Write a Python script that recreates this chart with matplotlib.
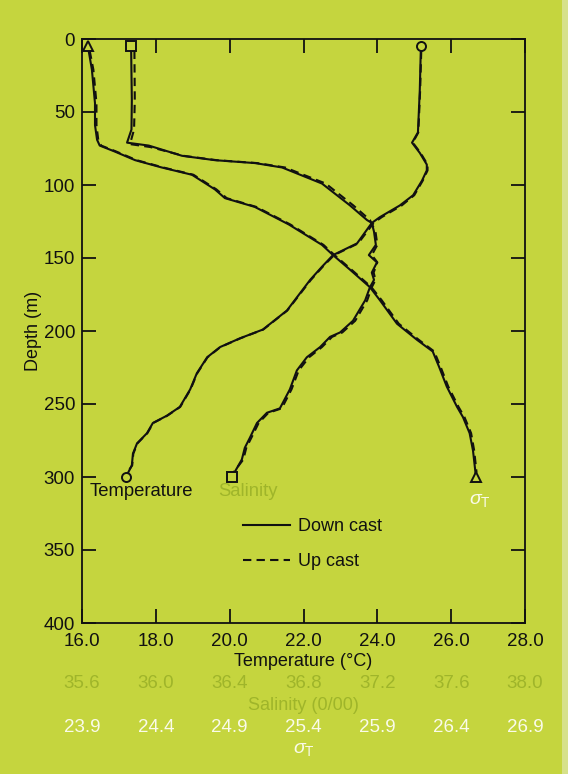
import matplotlib
matplotlib.use("Agg")
import matplotlib.pyplot as plt
from matplotlib.lines import Line2D
from matplotlib.patches import Rectangle

plt.rcParams['font.family'] = ['Liberation Sans', 'DejaVu Sans']
plt.rcParams['mathtext.fontset'] = 'custom'
plt.rcParams['mathtext.rm'] = 'Liberation Sans'
plt.rcParams['mathtext.it'] = 'Liberation Sans:italic'

# ---------------- data ----------------
temp_ticks = [16.0, 18.0, 20.0, 22.0, 24.0, 26.0, 28.0]
sal_ticks = [35.6, 36.0, 36.4, 36.8, 37.2, 37.6, 38.0]
sig_ticks = [23.9, 24.4, 24.9, 25.4, 25.9, 26.4, 26.9]
depth_ticks = [0, 50, 100, 150, 200, 250, 300, 350, 400]

temp_down_depth = [5, 35, 64, 71, 78, 86, 90, 97, 107, 114, 122, 126, 140, 148, 156, 165,
                   186, 199, 205, 211, 218, 229, 240, 252, 258, 263, 270, 277, 284, 292, 300]
temp_down = [25.18, 25.15, 25.10, 24.94, 25.15, 25.34, 25.34, 25.21, 24.97, 24.61, 24.07,
             23.85, 23.45, 22.80, 22.50, 22.18, 21.55, 20.90, 20.28, 19.74, 19.39, 19.11,
             18.93, 18.65, 18.30, 17.92, 17.76, 17.49, 17.38, 17.35, 17.19]

temp_up_depth = [8, 35, 64, 71, 78, 86, 90, 97, 107, 114, 122, 126, 140, 148, 156, 165,
                 186, 199, 205, 211, 218, 229, 240, 252, 258, 263, 270, 277, 284, 292, 298]
temp_up = [25.19, 25.16, 25.11, 24.96, 25.17, 25.36, 25.36, 25.23, 25.00, 24.66, 24.12,
           23.90, 23.48, 22.83, 22.52, 22.20, 21.56, 20.91, 20.29, 19.75, 19.40, 19.12,
           18.94, 18.66, 18.31, 17.93, 17.77, 17.50, 17.39, 17.36, 17.20]

sal_down_depth = [5, 42, 62, 71, 73, 80, 83, 85, 88, 99, 114, 124, 126, 132, 141, 148, 153,
                  160, 165, 170, 179, 193, 201, 204, 211, 218, 227, 240, 253, 256, 263, 273,
                  280, 288, 300]
sal_down = [35.866, 35.870, 35.868, 35.844, 35.962, 36.142, 36.320, 36.538, 36.684, 36.900,
            37.052, 37.144, 37.170, 37.182, 37.192, 37.154, 37.198, 37.170, 37.182, 37.160,
            37.134, 37.068, 36.998, 36.944, 36.890, 36.818, 36.764, 36.726, 36.672, 36.602,
            36.548, 36.510, 36.482, 36.466, 36.412]

sal_up_depth = [8, 42, 62, 72, 74, 80, 83, 85, 88, 99, 114, 124, 132, 141, 148, 153, 160,
                165, 170, 179, 193, 201, 204, 211, 218, 227, 240, 253, 256, 263, 273, 280,
                288, 297]
sal_up = [35.884, 35.886, 35.882, 35.860, 35.970, 36.150, 36.330, 36.550, 36.700, 36.920,
          37.070, 37.160, 37.190, 37.200, 37.170, 37.200, 37.180, 37.190, 37.170, 37.145,
          37.080, 37.010, 36.955, 36.900, 36.830, 36.774, 36.735, 36.682, 36.610, 36.557,
          36.518, 36.490, 36.474, 36.420]

sig_down_depth = [5, 21, 44, 59, 69, 73, 77, 83, 88, 93, 103, 109, 115, 127, 141, 148, 158,
                  170, 179, 195, 206, 214, 225, 238, 252, 259, 270, 282, 300]
sig_down = [23.940, 23.967, 23.988, 23.988, 24.002, 24.020, 24.120, 24.260, 24.440, 24.645,
            24.800, 24.868, 25.070, 25.300, 25.525, 25.600, 25.715, 25.850, 25.918, 26.033,
            26.168, 26.275, 26.320, 26.370, 26.440, 26.480, 26.525, 26.548, 26.568]

sig_up_depth = [8, 21, 44, 59, 69, 73, 77, 83, 88, 93, 103, 109, 115, 127, 141, 148, 158,
                170, 179, 195, 206, 214, 225, 238, 252, 259, 270, 282, 297]
sig_up = [23.952, 23.977, 23.998, 23.998, 24.010, 24.030, 24.130, 24.270, 24.450, 24.655,
          24.810, 24.880, 25.080, 25.310, 25.535, 25.610, 25.725, 25.860, 25.930, 26.045,
          26.180, 26.285, 26.330, 26.380, 26.450, 26.490, 26.535, 26.556, 26.572]

# ---------------- styling ----------------
BG = '#C5D53E'
SAL_C = '#9FB52A'
SIG_C = '#FAFBEA'
INK = '#111111'
DASH = (0, (4, 2.5))


def s2t(s):
    return 16.0 + (s - 35.6) / 0.2


def t2s(t):
    return 35.6 + (t - 16.0) * 0.2


def g2t(g):
    return 16.0 + (g - 23.9) / 0.25


def t2g(t):
    return 23.9 + (t - 16.0) * 0.25


fig = plt.figure(figsize=(5.68, 7.74), dpi=100, facecolor=BG)
fig.patches.append(Rectangle((562 / 568, 0), 6 / 568, 1, transform=fig.transFigure,
                             facecolor='#D6E18A', edgecolor='none', zorder=0))
ax = fig.add_axes([82 / 568, 1 - 623 / 774, 443 / 568, 584 / 774])
ax.set_facecolor(BG)

lw = 1.5
ax.plot(temp_down, temp_down_depth, color=INK, lw=lw)
ax.plot(temp_up, temp_up_depth, color=INK, lw=lw, ls=DASH)
ax.plot([s2t(v) for v in sal_down], sal_down_depth, color=INK, lw=lw)
ax.plot([s2t(v) for v in sal_up], sal_up_depth, color=INK, lw=lw, ls=DASH)
ax.plot([g2t(v) for v in sig_down], sig_down_depth, color=INK, lw=lw)
ax.plot([g2t(v) for v in sig_up], sig_up_depth, color=INK, lw=lw, ls=DASH)

mk = dict(ls='none', mfc=BG, mec=INK, mew=1.4, ms=6.5, zorder=5)
ax.plot([temp_down[0], temp_down[-1]], [temp_down_depth[0], temp_down_depth[-1]], marker='o', **mk)
ax.plot([s2t(sal_down[0]), s2t(sal_down[-1])], [sal_down_depth[0], sal_down_depth[-1]], marker='s', **mk)
ax.plot([g2t(sig_down[0]), g2t(sig_down[-1])], [sig_down_depth[0], sig_down_depth[-1]], marker='^', **mk)

ax.set_xlim(16, 28)
ax.set_ylim(400, 0)
ax.set_xticks(temp_ticks)
ax.set_xticklabels([f'{t:.1f}' for t in temp_ticks])
ax.set_yticks(depth_ticks)
ax.tick_params(axis='both', direction='in', length=10, width=1.3, labelsize=13.5,
               colors=INK, top=True, right=True)
ax.tick_params(axis='x', pad=7)
ax.tick_params(axis='y', pad=5)
for sp in ax.spines.values():
    sp.set_linewidth(1.3)
    sp.set_color(INK)

ax.set_xlabel('Temperature (°C)', fontsize=13, color=INK)
ax.xaxis.set_label_coords(0.5, -(661 - 623) / 584)
ax.xaxis.label.set_va('center')
ax.set_ylabel('Depth (m)', fontsize=13, color=INK)
ax.yaxis.set_label_coords((33 - 82) / 443, 0.5)
ax.yaxis.label.set_va('center')
ax.yaxis.label.set_ha('center')

sec_s = ax.secondary_xaxis(-(675 - 623) / 584, functions=(t2s, s2t))
sec_s.set_xticks(sal_ticks)
sec_s.set_xticklabels([f'{v:.1f}' for v in sal_ticks])
sec_s.tick_params(length=0, pad=0, labelsize=13.5, labelcolor=SAL_C)
sec_s.spines['bottom'].set_visible(False)
ax.text(0.5, -(705 - 623) / 584, 'Salinity (0/00)', transform=ax.transAxes,
        fontsize=13, color=SAL_C, ha='center', va='center')

sec_g = ax.secondary_xaxis(-(719 - 623) / 584, functions=(t2g, g2t))
sec_g.set_xticks(sig_ticks)
sec_g.set_xticklabels([f'{v:.1f}' for v in sig_ticks])
sec_g.tick_params(length=0, pad=0, labelsize=13.5, labelcolor=SIG_C)
sec_g.spines['bottom'].set_visible(False)
ax.text(0.5, -(749 - 623) / 584, r'$\sigma_{\mathrm{T}}$', transform=ax.transAxes,
        fontsize=14, color=SIG_C, ha='center', va='center')

# curve labels
ax.text(16.2, 310, 'Temperature', fontsize=13.3, color=INK, va='center', ha='left')
ax.text(19.68, 310, 'Salinity', fontsize=13.3, color=SAL_C, va='center', ha='left')
ax.text(26.78, 316, r'$\sigma_{\mathrm{T}}$', fontsize=14, color=SIG_C, va='center', ha='center')

handles = [Line2D([], [], color=INK, lw=lw),
           Line2D([], [], color=INK, lw=lw, ls=DASH)]
leg = ax.legend(handles, ['Down cast', 'Up cast'], loc='upper left',
                bbox_to_anchor=((243 - 82) / 443, (623 - 518) / 584), frameon=False,
                fontsize=13, handlelength=2.6, handletextpad=0.45, labelspacing=1.0,
                borderpad=0, borderaxespad=0)
for t in leg.get_texts():
    t.set_color(INK)

fig.savefig('out.png', dpi=100, facecolor=BG)
